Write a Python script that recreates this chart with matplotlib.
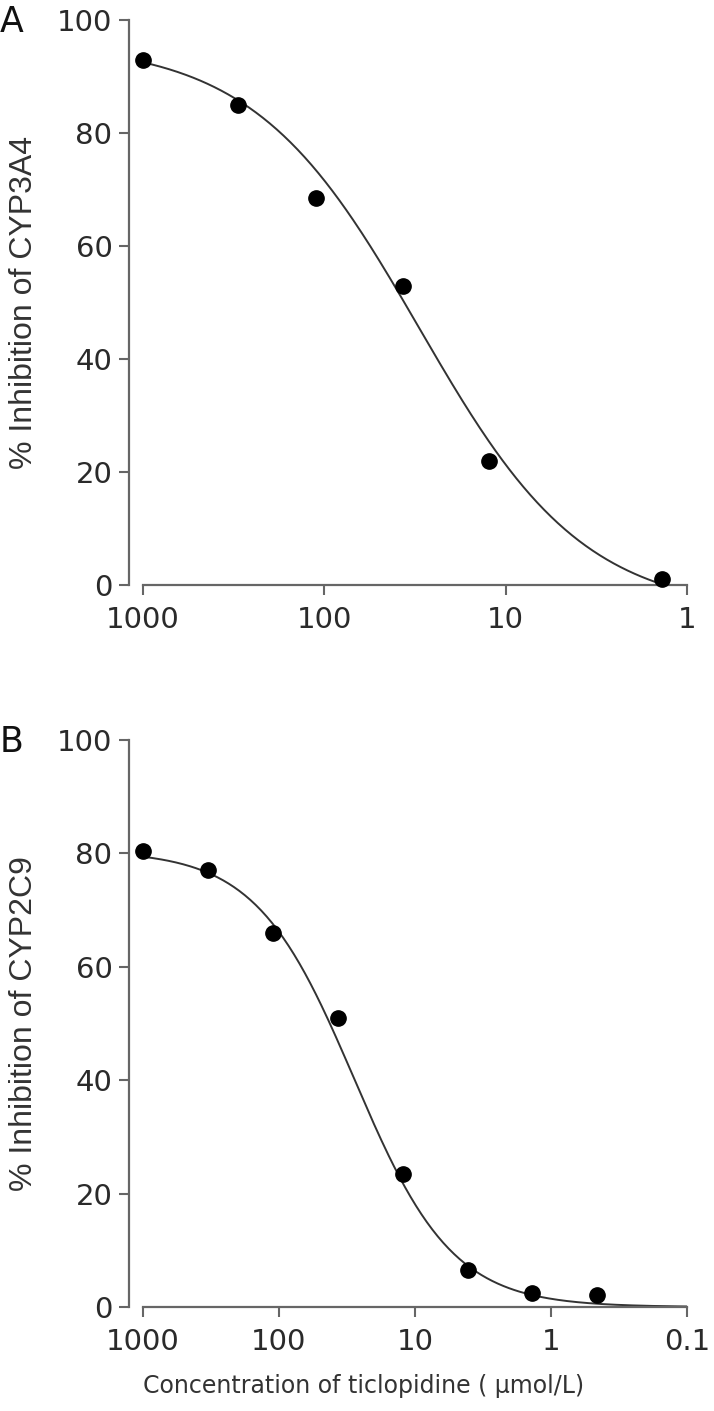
import numpy as np
import matplotlib
matplotlib.use('Agg')
import matplotlib.pyplot as plt

# concentrations of ticlopidine (umol/L)
conc_a = [1000, 300, 111, 37, 12.3, 1.37]
inhib_a = [93, 85, 68.5, 53, 22, 1]

conc_b = [1000, 333, 111, 37, 12.3, 4.1, 1.37, 0.457]
inhib_b = [80.5, 77, 66, 51, 23.5, 6.5, 2.5, 2.2]

# fitted sigmoid parameters: top, bottom, IC50, hill slope
fit_a = [96, -5, 30, 0.95]
fit_b = [80.5, 0, 28, 1.2]

xticks_a = [1000, 100, 10, 1]
xticks_b = [1000, 100, 10, 1, 0.1]
yticks = [0, 20, 40, 60, 80, 100]


def sigmoid(x, p):
    top, bottom, ic50, h = p
    return bottom + (top - bottom) / (1 + (ic50 / x) ** h)


tick_font = 'DejaVu Sans'
label_font = 'Liberation Sans'

W, H = 714, 1411
fig = plt.figure(figsize=(W / 100, H / 100), dpi=100)


def panel(rect, conc, inhib, fit, xticks, xmin, ylabel, letter, xcurve_end):
    l, t, r, b = rect
    ax = fig.add_axes([l / W, 1 - b / H, (r - l) / W, (b - t) / H])
    ax.set_xscale('log')
    ax.set_xlim(1000, xmin)
    ax.set_ylim(0, 100)
    xs = np.logspace(3, np.log10(xcurve_end), 300)
    ax.plot(xs, sigmoid(xs, fit), color='#333333', lw=1.4, zorder=2)
    ax.plot(conc, inhib, 'o', color='black', ms=11, zorder=3, clip_on=False)
    for s in ['top', 'right']:
        ax.spines[s].set_visible(False)
    ax.spines['left'].set_position(('outward', 10))
    for s in ['left', 'bottom']:
        ax.spines[s].set_color('#666666')
        ax.spines[s].set_linewidth(1.6)
    ax.set_xticks(xticks)
    ax.set_xticklabels([('%g' % v) for v in xticks])
    ax.xaxis.set_minor_locator(matplotlib.ticker.NullLocator())
    ax.set_yticks(yticks)
    ax.tick_params(axis='both', length=7, width=1.5, color='#666666',
                   labelsize=21, labelcolor='#2a2a2a')
    ax.tick_params(axis='x', pad=8)
    ax.tick_params(axis='y', pad=5)
    for lab in ax.get_xticklabels() + ax.get_yticklabels():
        lab.set_family(tick_font)
    fig.text(24 / W, 1 - ((t + b) / 2) / H, ylabel, rotation=90,
             ha='center', va='center', fontsize=23, family=label_font,
             color='#333333')
    fig.text(0, 1 - (t + 2) / H, letter, ha='left', va='center',
             fontsize=25, family=tick_font, color='#111111')
    return ax


panel((143, 20, 687, 585), conc_a, inhib_a, fit_a, xticks_a, 1,
      '% Inhibition of CYP3A4', 'A', 1.37)
panel((143, 740, 687, 1307), conc_b, inhib_b, fit_b, xticks_b, 0.1,
      '% Inhibition of CYP2C9', 'B', 0.1)

fig.text(364 / W, 1 - 1386 / H, 'Concentration of ticlopidine ( \u03bcmol/L)',
         ha='center', va='center', fontsize=17, family=tick_font,
         color='#333333')

fig.savefig('out.png', dpi=100)
